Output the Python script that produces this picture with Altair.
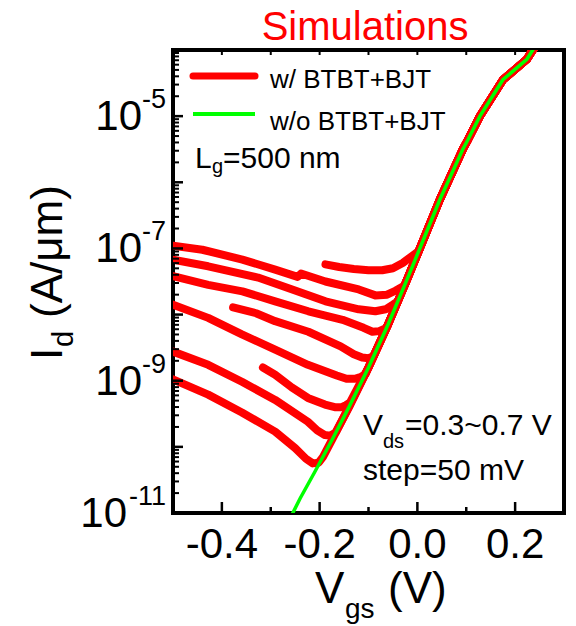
import altair as alt
import pandas as pd

# ---------------- data ----------------
# Vgs in volts, Id given as log10(Id [A/um])
green_vgs = [-0.265, -0.24, -0.21, -0.175, -0.14, -0.10, -0.06, -0.02, 0.015, 0.046,
             0.093, 0.104, 0.128, 0.175, 0.224, 0.236, 0.25]
green_log_id = [-11.15, -10.78, -10.38, -9.9, -9.4, -8.8, -8.15, -7.45, -6.82, -6.26,
                -5.5, -5.35, -5.0, -4.45, -4.14, -4.0, -3.86]

red1_vgs = [-0.188, -0.16, -0.13, -0.10, -0.072, -0.05, -0.03, -0.012, 0.003]
red1_log = [-7.24, -7.28, -7.31, -7.33, -7.33, -7.30, -7.22, -7.12, -7.04]

red2_vgs = [-0.5, -0.44, -0.358, -0.291, -0.245, -0.238, -0.188, -0.12, -0.086, -0.062, -0.045, -0.026]
red2_log = [-6.96, -7.02, -7.17, -7.32, -7.43, -7.38, -7.5, -7.62, -7.71, -7.70, -7.64, -7.56]

red3_vgs = [-0.5, -0.428, -0.326, -0.256, -0.188, -0.12, -0.086, -0.065, -0.05, -0.04]
red3_log = [-7.17, -7.27, -7.44, -7.62, -7.8, -7.92, -7.95, -7.92, -7.85, -7.80]

red4_vgs = [-0.5, -0.428, -0.358, -0.291, -0.223, -0.153, -0.11, -0.092, -0.078, -0.063]
red4_log = [-7.42, -7.55, -7.65, -7.8, -7.95, -8.08, -8.2, -8.26, -8.25, -8.2]

red5_vgs = [-0.377, -0.33, -0.291, -0.223, -0.157, -0.13, -0.113, -0.1, -0.09]
red5_log = [-7.89, -7.98, -8.1, -8.26, -8.48, -8.6, -8.65, -8.66, -8.63]

red6_vgs = [-0.5, -0.428, -0.359, -0.291, -0.224, -0.165, -0.145, -0.128, -0.115, -0.106]
red6_log = [-7.85, -8.05, -8.3, -8.53, -8.76, -8.92, -8.97, -8.97, -8.94, -8.9]

red7_vgs = [-0.316, -0.291, -0.257, -0.224, -0.189, -0.169, -0.155, -0.146, -0.138]
red7_log = [-8.8, -8.91, -9.1, -9.26, -9.36, -9.40, -9.40, -9.37, -9.33]

red8_vgs = [-0.5, -0.428, -0.358, -0.291, -0.224, -0.205, -0.19, -0.178, -0.167]
red8_log = [-8.56, -8.76, -9.02, -9.29, -9.62, -9.75, -9.82, -9.83, -9.78]

red9_vgs = [-0.5, -0.428, -0.359, -0.291, -0.25, -0.228, -0.214, -0.202, -0.193]
red9_log = [-8.98, -9.21, -9.48, -9.77, -10.02, -10.18, -10.25, -10.24, -10.15]

x_tick_values = [-0.4, -0.2, 0.0, 0.2]
x_tick_labels = ["-0.4", "-0.2", "0.0", "0.2"]
x_minor_values = [-0.3, -0.1, 0.1]
y_label_values = [1e-5, 1e-7, 1e-9, 1e-11]
y_label_exps = ["-5", "-7", "-9", "-11"]

# ---------------- tables ----------------
green_df = pd.DataFrame({
    "vgs": green_vgs,
    "id": [10 ** v for v in green_log_id],
    "idx": list(range(len(green_vgs))),
})

red_sets = [
    (red1_vgs, red1_log), (red2_vgs, red2_log), (red3_vgs, red3_log),
    (red4_vgs, red4_log), (red5_vgs, red5_log), (red6_vgs, red6_log),
    (red7_vgs, red7_log), (red8_vgs, red8_log), (red9_vgs, red9_log),
]
rows = []
for k, (vs, ls) in enumerate(red_sets):
    pts = list(zip(vs, ls))
    # after the minimum every red curve merges into the common subthreshold/on curve
    pts += [(v, l) for v, l in zip(green_vgs, green_log_id) if v > vs[-1]]
    for i, (v, l) in enumerate(pts):
        rows.append({"curve": f"c{k}", "vgs": v, "id": 10 ** l, "idx": i})
red_df = pd.DataFrame(rows)

W, H = 391, 463
FONT = "Liberation Sans"
X_SCALE = alt.Scale(domain=[-0.5, 0.3], nice=False, zero=False)
Y_SCALE = alt.Scale(type="log", domain=[1e-11, 1e-4], nice=False)
one = pd.DataFrame({"a": [0]})


def xenc(field="vgs"):
    return alt.X(f"{field}:Q", scale=X_SCALE, axis=None)


def yenc(field="id"):
    return alt.Y(f"{field}:Q", scale=Y_SCALE, axis=None)


def label(text, x, y, size, color="black", align="left", **kw):
    return alt.Chart(one).mark_text(
        text=text, font=FONT, fontSize=size, color=color, align=align,
        baseline="alphabetic", clip=False, **kw
    ).encode(x=alt.value(x), y=alt.value(y))


layers = []

red = alt.Chart(red_df).mark_line(
    color="#ff0000", strokeWidth=8, strokeCap="round", strokeJoin="round", clip=True
).encode(x=xenc(), y=yenc(), detail="curve:N", order="idx:Q")
green = alt.Chart(green_df).mark_line(
    color="#00ff00", strokeWidth=3.5, clip=True
).encode(x=xenc(), y=yenc(), order="idx:Q")
layers += [red, green]

# ticks (inside the frame)
xt = pd.DataFrame({"v": x_tick_values})
xm = pd.DataFrame({"v": x_minor_values})
xall = pd.DataFrame({"v": x_tick_values + x_minor_values})
layers.append(alt.Chart(xt).mark_rule(color="black", strokeWidth=2.5).encode(
    x=xenc("v"), y=alt.value(H), y2=alt.value(H - 11)))
layers.append(alt.Chart(xm).mark_rule(color="black", strokeWidth=2.5).encode(
    x=xenc("v"), y=alt.value(H), y2=alt.value(H - 6)))
layers.append(alt.Chart(xall).mark_rule(color="black", strokeWidth=2).encode(
    x=xenc("v"), y=alt.value(0), y2=alt.value(5)))

y_major = pd.DataFrame({"v": [10.0 ** e for e in range(-10, -4)]})
y_minor = pd.DataFrame({"v": [k * 10.0 ** e for e in range(-11, -4) for k in range(2, 10)]})
layers.append(alt.Chart(y_major).mark_rule(color="black", strokeWidth=2.5).encode(
    y=yenc("v"), x=alt.value(0), x2=alt.value(10)))
layers.append(alt.Chart(y_minor).mark_rule(color="black", strokeWidth=2).encode(
    y=yenc("v"), x=alt.value(0), x2=alt.value(6)))

# x tick labels
xl = pd.DataFrame({"v": x_tick_values, "t": x_tick_labels})
layers.append(alt.Chart(xl).mark_text(
    font=FONT, fontSize=42, align="center", baseline="alphabetic", clip=False
).encode(x=xenc("v"), y=alt.value(508), text="t:N"))

# y tick labels 10^n
yl = pd.DataFrame({"v": y_label_values, "sup": y_label_exps})
for short in (True, False):
    sub = yl[(yl["sup"].str.len() == 2) == short]
    ten_x = -31 if short else -46
    layers.append(alt.Chart(sub).mark_text(
        text="10", font=FONT, fontSize=42, align="right", baseline="alphabetic",
        dy=14, clip=False
    ).encode(x=alt.value(ten_x), y=yenc("v")))
    layers.append(alt.Chart(sub).mark_text(
        font=FONT, fontSize=27, align="right", baseline="alphabetic", dy=-8, clip=False
    ).encode(x=alt.value(-7), y=yenc("v"), text="sup:N"))

# title
layers.append(label("Simulations", 192, -10, 40, color="#ff0000", align="center"))

# legend
layers.append(alt.Chart(one).mark_rule(color="#ff0000", strokeWidth=7, strokeCap="round").encode(
    x=alt.value(20), x2=alt.value(82), y=alt.value(26)))
layers.append(alt.Chart(one).mark_rule(color="#00ff00", strokeWidth=4).encode(
    x=alt.value(20), x2=alt.value(82), y=alt.value(64)))
layers.append(label("w/ BTBT+BJT", 97, 38, 26))
layers.append(label("w/o BTBT+BJT", 97, 80, 26))

# annotations
layers.append(label("L", 22, 118, 30))
layers.append(label("g", 39, 123, 20))
layers.append(label("=500 nm", 50, 118, 30))
layers.append(label("V", 190, 385, 30))
layers.append(label("ds", 210, 398, 20))
layers.append(label("=0.3~0.7 V", 232, 385, 30))
layers.append(label("step=50 mV", 190, 430, 30))

# axis titles
layers.append(label("V", 142, 553, 44))
layers.append(label("gs", 172, 568, 28))
layers.append(label("(V)", 215, 553, 44))
layers.append(label("I", -111, 310, 44, angle=270))
layers.append(label("d", -100, 297, 29, angle=270))
layers.append(label("(A/μm)", -111, 268, 44, angle=270))

chart = alt.layer(*layers).properties(
    width=W, height=H,
    padding={"left": 173, "top": 50, "right": 12, "bottom": 113},
    autosize=alt.AutoSizeParams(type="none"),
).configure_view(stroke="black", strokeWidth=4)

chart.save("out.html", embed_options={"renderer": "svg", "actions": False})
